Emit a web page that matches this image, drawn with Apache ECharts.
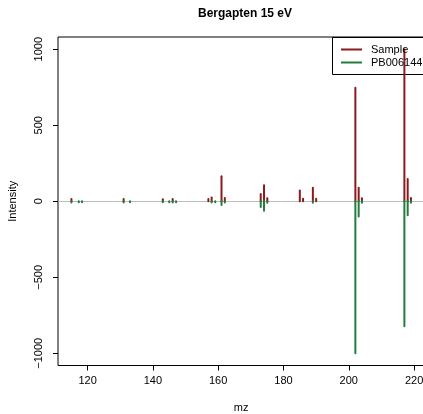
<!DOCTYPE html>
<html>
	<head>
		<meta charset="utf-8">
		<title></title>
		<script src="https://cdn.jsdelivr.net/npm/echarts@6/dist/echarts.min.js"></script>
	</head>
	
	<body style="margin: 0;">
		<div id="main" style="width: 423px; height: 414px;"></div>
		<script type="text/javascript">
			// sample spectrum (upper half)
			var sampleMz = [115.05, 131.04, 143.05, 146.06, 157.0, 158.0, 161.02, 162.03, 173.03, 174.04, 175.04,
				185.0, 186.0, 189.0, 190.0, 202.02, 203.03, 204.03, 217.03, 218.04, 219.04];
			var sampleInt = [15, 15, 13, 14, 15, 25, 165, 22, 48, 105, 20,
				70, 17, 89, 17, 747, 89, 20, 1000, 147, 22];

			// reference spectrum PB006144 (mirrored, lower half)
			var refMz = [115.05, 117.3, 118.3, 131.04, 133.0, 143.05, 145.0, 146.06, 147.1, 158.0, 159.1,
				161.02, 162.03, 173.03, 174.04, 175.04, 189.0, 202.02, 203.03, 204.03, 217.03, 218.04, 219.04];
			var refInt = [-8, -7, -7, -8, -6, -7, -6, -8, -6, -9, -7,
				-24, -8, -37, -62, -10, -10, -1000, -100, -10, -822, -92, -10];

			var xTicks = [120, 140, 160, 180, 200, 220];
			var yTicks = [-1000, -500, 0, 500, 1000];

			var font = 'Liberation Sans, Arial, Helvetica, sans-serif';
			var red = '#8b1a1a';
			var green = '#237b40';

			function pairs(xs, ys) {
				return xs.map(function (x, i) { return [x, ys[i]]; });
			}

			// vertical stick from 0 to the intensity, like R's type = "h"
			function stick(color) {
				return function (params, api) {
					var p0 = api.coord([api.value(0), 0]);
					var p1 = api.coord([api.value(0), api.value(1)]);
					return {
						type: 'line',
						shape: { x1: p0[0], y1: p0[1], x2: p1[0], y2: p1[1] },
						style: { stroke: color, lineWidth: 2, lineCap: 'round' }
					};
				};
			}

			var myChart = echarts.init(document.getElementById("main"));
			option = {
				animation: false,
				textStyle: { fontFamily: font },
				title: {
					text: 'Bergapten 15 eV',
					left: 240,
					textAlign: 'center',
					top: 3,
					textStyle: { fontFamily: font, fontSize: 12, fontWeight: 'bold', color: '#000' }
				},
				legend: {
					orient: 'vertical',
					left: 332,
					top: 37,
					padding: [6, 10, 5, 9],
					itemGap: 0,
					itemWidth: 21,
					itemHeight: 2,
					icon: 'rect',
					textStyle: { fontFamily: font, fontSize: 11, color: '#000', lineHeight: 13, padding: [0, 0, 0, 4] },
					data: [
						{ name: 'Sample', itemStyle: { color: red } },
						{ name: 'PB006144', itemStyle: { color: green } }
					]
				},
				graphic: [{
					type: 'rect',
					shape: { x: 332.5, y: 37.5, width: 110, height: 37 },
					style: { fill: 'none', stroke: '#000', lineWidth: 1 },
					silent: true
				}],
				grid: {
					left: 58,
					width: 366.4,
					top: 37,
					height: 328.5,
					outerBoundsMode: 'none',
					containLabel: false,
					show: true,
					borderColor: '#000',
					borderWidth: 1
				},
				xAxis: {
					type: 'value',
					min: 110.94,
					max: 223.16,
					name: 'mz',
					nameLocation: 'middle',
					nameGap: 37,
					nameTextStyle: { fontFamily: font, fontSize: 11, color: '#000' },
					axisLine: { show: false, onZero: false },
					splitLine: { show: false },
					axisTick: { show: true, length: 5, customValues: xTicks, lineStyle: { color: '#000' } },
					axisLabel: { customValues: xTicks, margin: 10, fontFamily: font, fontSize: 11, color: '#000' }
				},
				yAxis: {
					type: 'value',
					min: -1080,
					max: 1080,
					name: 'Intensity',
					nameLocation: 'middle',
					nameGap: 40,
					nameTextStyle: { fontFamily: font, fontSize: 11, color: '#000' },
					axisLine: { show: false, onZero: false },
					splitLine: { show: false },
					axisTick: { show: true, length: 5, customValues: yTicks, lineStyle: { color: '#000' } },
					axisLabel: {
						customValues: yTicks, rotate: 90, margin: 14, fontFamily: font, fontSize: 11, color: '#000',
						formatter: function (v) { return String(v).replace('-', '\u2212'); }
					}
				},
				series: [
					{
						name: 'Sample',
						type: 'custom',
						renderItem: stick(red),
						itemStyle: { color: red },
						data: pairs(sampleMz, sampleInt),
						z: 3,
						markLine: {
							silent: true,
							symbol: 'none',
							label: { show: false },
							lineStyle: { color: '#bdbdbd', width: 1, type: 'solid' },
							data: [{ yAxis: 0 }],
							z: 1
						}
					},
					{
						name: 'PB006144',
						type: 'custom',
						renderItem: stick(green),
						itemStyle: { color: green },
						data: pairs(refMz, refInt),
						z: 3
					}
				]
			};
			myChart.setOption(option);
		</script>
		
	</body>
</html>
